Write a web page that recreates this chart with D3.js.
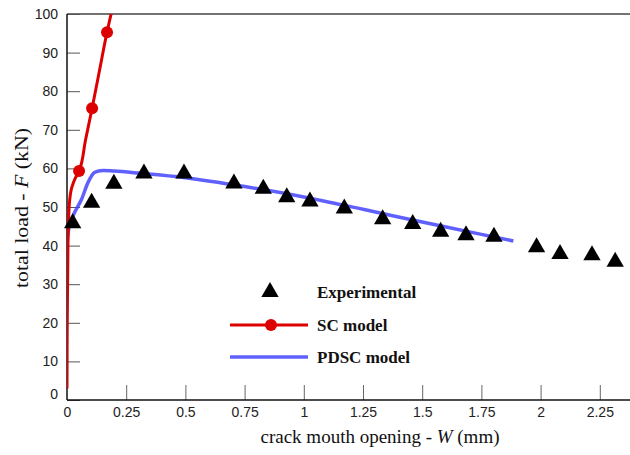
<!DOCTYPE html>
<html>
<head>
<meta charset="utf-8">
<script src="https://cdn.jsdelivr.net/npm/d3@7"></script>
<style>
body{margin:0;background:#fff;}
.tick text{font-family:"Liberation Sans",Arial,sans-serif;font-size:14px;fill:#222;}
.lab{font-family:"Liberation Serif","Times New Roman",serif;font-size:19px;fill:#111;}
.leg{font-family:"Liberation Serif","Times New Roman",serif;font-size:17px;font-weight:bold;fill:#111;}
</style>
</head>
<body>
<script>
// data
var expW=[0.024,0.104,0.198,0.325,0.494,0.705,0.829,0.928,1.026,1.171,1.333,1.46,1.578,1.685,1.803,1.983,2.082,2.217,2.315];
var expF=[45.8,51.1,56.0,58.7,58.7,56.1,54.7,52.5,51.4,49.6,46.8,45.6,43.6,42.7,42.3,39.6,37.8,37.5,35.8];

var scW=[0,0.001,0.004,0.009,0.02,0.035,0.051,0.078,0.106,0.138,0.169,0.19];
var scF=[3,20,40,50,55,57.5,59.3,67.3,75.6,85.6,95.3,101];
var scMarkW=[0.051,0.106,0.169];
var scMarkF=[59.3,75.6,95.3];

var pdW=[0,0.01,0.03,0.06,0.09,0.115,0.14,0.2,0.3,0.5,0.75,1.0,1.25,1.5,1.75,1.885];
var pdF=[41,45,48.3,51.8,56.5,58.9,59.4,59.3,58.8,57.6,55.3,52.6,49.4,46.1,42.9,41.2];

var xTicks=[0,0.25,0.5,0.75,1,1.25,1.5,1.75,2,2.25];
var xTickLabels=["0","0.25","0.5","0.75","1","1.25","1.5","1.75","2","2.25"];
var yTicks=[0,10,20,30,40,50,60,70,80,90,100];

var width=630,height=455;
var mLeft=67,mTop=14,mBottom=400;

var svg=d3.select("body").append("svg")
	.attr("width",width)
	.attr("height",height);

var x=d3.scaleLinear().domain([0,2.25]).range([mLeft,mLeft+9*59.2]);
var y=d3.scaleLinear().domain([0,100]).range([mBottom,mTop]);

svg.append("defs").append("clipPath").attr("id","clip")
	.append("rect").attr("x",mLeft).attr("y",mTop).attr("width",width-mLeft).attr("height",mBottom-mTop);

//top frame line
svg.append("line").attr("x1",mLeft).attr("x2",width).attr("y1",mTop).attr("y2",mTop)
	.attr("stroke","#444").attr("stroke-width",1.5);

//AXES
var xAxis=svg.append("g").attr("transform","translate(0,"+mBottom+")")
	.call(d3.axisBottom(x).tickValues(xTicks).tickFormat(function(d,i){return xTickLabels[i];}).tickSizeInner(-15).tickSizeOuter(0).tickPadding(4));
xAxis.select(".domain").remove();
xAxis.selectAll(".tick line").attr("stroke","#666");
xAxis.selectAll(".tick text").attr("dy","0.9em");

var yAxis=svg.append("g").attr("transform","translate("+mLeft+",0)")
	.call(d3.axisLeft(y).tickValues(yTicks).tickSizeInner(-13).tickSizeOuter(0).tickPadding(9));
yAxis.select(".domain").remove();
yAxis.selectAll(".tick line").attr("stroke","#555");
yAxis.selectAll(".tick text").attr("dy","0.32em");
yAxis.selectAll(".tick").filter(function(d){return d==0;}).select("text").attr("dy","-0.1em");
xAxis.selectAll(".tick").filter(function(d){return d==0;}).select("line").remove();

svg.append("line").attr("x1",mLeft).attr("x2",width).attr("y1",mBottom).attr("y2",mBottom)
	.attr("stroke","#111").attr("stroke-width",1.5);
svg.append("line").attr("x1",mLeft).attr("x2",mLeft).attr("y1",mTop).attr("y2",mBottom)
	.attr("stroke","#111").attr("stroke-width",1.5);

//LINES
var plot=svg.append("g").attr("clip-path","url(#clip)");
var line=d3.line().x(function(d){return x(d[0]);}).y(function(d){return y(d[1]);}).curve(d3.curveMonotoneY);
var line2=d3.line().x(function(d){return x(d[0]);}).y(function(d){return y(d[1]);}).curve(d3.curveCatmullRom);

plot.append("path").datum(d3.zip(pdW,pdF)).attr("d",line2)
	.attr("fill","none").attr("stroke","#4444ff").attr("stroke-opacity",0.85).attr("stroke-width",3.5);

plot.append("path").datum(d3.zip(scW,scF)).attr("d",line)
	.attr("fill","none").attr("stroke","#dd0000").attr("stroke-width",3);

plot.selectAll("circle.sc").data(d3.zip(scMarkW,scMarkF)).enter()
	.append("circle").attr("class","sc")
	.attr("cx",function(d){return x(d[0]);})
	.attr("cy",function(d){return y(d[1]);})
	.attr("r",6).attr("fill","#dd0000");

var tri=d3.symbol().type(d3.symbolTriangle).size(130);
svg.selectAll("path.exp").data(d3.zip(expW,expF)).enter()
	.append("path").attr("class","exp")
	.attr("d",tri)
	.attr("transform",function(d){return "translate("+x(d[0])+","+y(d[1])+")";})
	.attr("fill","#000");

//LEGEND
svg.append("path").attr("d",tri).attr("transform","translate(270,292)").attr("fill","#000");
svg.append("text").attr("class","leg").attr("x",317).attr("y",298).text("Experimental");
svg.append("line").attr("x1",230).attr("x2",308).attr("y1",325).attr("y2",325)
	.attr("stroke","#dd0000").attr("stroke-width",3);
svg.append("circle").attr("cx",271).attr("cy",325).attr("r",6).attr("fill","#dd0000");
svg.append("text").attr("class","leg").attr("x",317).attr("y",331).text("SC model");
svg.append("line").attr("x1",230).attr("x2",308).attr("y1",357).attr("y2",357)
	.attr("stroke","#4444ff").attr("stroke-opacity",0.85).attr("stroke-width",3.5);
svg.append("text").attr("class","leg").attr("x",317).attr("y",363).text("PDSC model");

//AXIS TITLES
var xt=svg.append("text").attr("class","lab").attr("x",380).attr("y",443).attr("text-anchor","middle");
xt.append("tspan").text("crack mouth opening - ");
xt.append("tspan").attr("font-style","italic").text("W");
xt.append("tspan").text(" (mm)");

//y title is stretched along its length in the original
var yt=svg.append("text").attr("class","lab")
	.attr("textLength",160).attr("lengthAdjust","spacingAndGlyphs")
	.attr("transform","translate(28,288) rotate(-90)");
yt.append("tspan").text("total load - ");
yt.append("tspan").attr("font-style","italic").text("F");
yt.append("tspan").text(" (kN)");
</script>
</body>
</html>
